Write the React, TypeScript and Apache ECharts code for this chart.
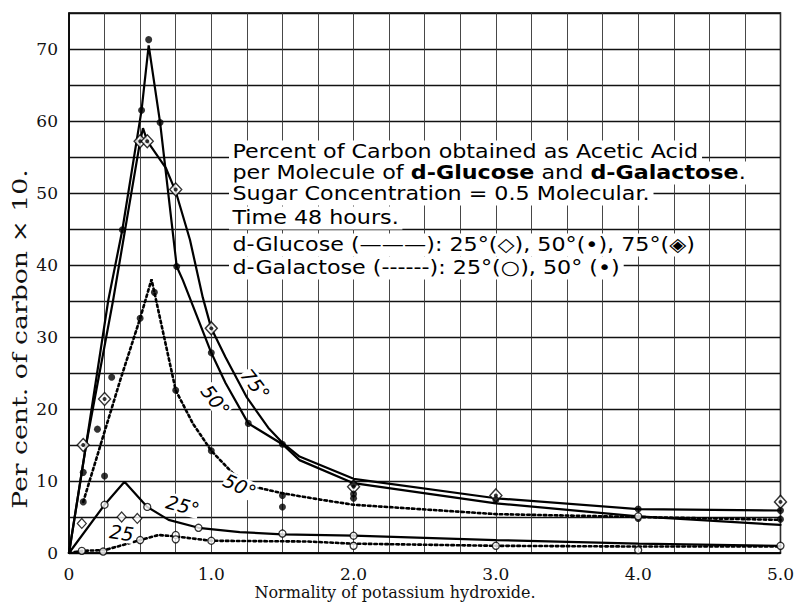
import React, { useEffect, useRef } from "react";
import * as echarts from "echarts";

// Axis ranges and tick labels
const X_MIN = 0;
const X_MAX = 5;
const Y_MIN = 0;
const Y_MAX = 75;
const xTickLabels: Record<string, string> = { "0": "0", "1": "1.0", "2": "2.0", "3": "3.0", "4": "4.0", "5": "5.0" };
const yTickLabels = [0, 10, 20, 30, 40, 50, 60, 70];

// Drawn curves
const glucose75Curve = [
  [0, 0], [0.12, 15], [0.31, 35.1], [0.5, 57.2], [0.52, 59], [0.55, 57.2], [0.68, 53.5], [0.75, 50.2],
  [0.85, 43.5], [0.94, 35.5], [1.0, 31.2], [1.1, 27.2], [1.25, 21.6], [1.4, 17.4], [1.5, 15.3], [1.62, 13.4],
  [2.0, 10.3], [3.0, 7.6], [4.0, 6.1], [5.0, 5.9],
];
const glucose50Curve = [
  [0, 0], [0.12, 15], [0.276, 35.1], [0.375, 44.9], [0.51, 61.5], [0.56, 70.5], [0.64, 59.8], [0.757, 39.8],
  [0.8, 37.9], [1.0, 27.8], [1.1, 23.6], [1.26, 18.0], [1.5, 15.1], [1.62, 12.9], [2.0, 9.7], [3.0, 6.9],
  [4.0, 5.1], [5.0, 3.9],
];
const glucose25Curve = [
  [0, 0], [0.25, 6.7], [0.39, 9.9], [0.55, 6.4], [0.7, 4.6], [0.91, 3.5], [1.2, 2.9], [1.5, 2.6], [2.0, 2.4],
  [3.0, 1.8], [4.0, 1.3], [5.0, 1.0],
];
const galactose50Curve = [
  [0.1, 7.1], [0.36, 24], [0.5, 32.6], [0.58, 38.0], [0.6, 36.2], [0.75, 22.6], [0.87, 18], [1.0, 14.2],
  [1.15, 11.1], [1.3, 9.2], [1.5, 8.3], [1.77, 7.4], [2.0, 6.7], [3.0, 5.4], [4.0, 5.0], [5.0, 4.6],
];
const galactose25Curve = [
  [0, 0], [0.09, 0.3], [0.25, 0.4], [0.5, 1.8], [0.63, 2.5], [0.75, 2.3], [1.0, 1.7], [1.67, 1.6], [2.0, 1.3],
  [3.0, 1.0], [4.0, 0.9], [5.0, 0.9],
];

// Observed points
const glucose75Points = [
  [0.1, 15.0], [0.25, 21.4], [0.5, 57.2], [0.55, 57.2], [0.75, 50.5], [1.0, 31.2], [2.0, 9.2], [3.0, 8.0], [5.0, 7.1],
];
const glucose50Points = [
  [0.1, 11.2], [0.2, 17.2], [0.375, 44.9], [0.51, 61.5], [0.56, 71.3], [0.64, 59.8], [0.757, 39.8], [1.0, 27.8],
  [1.26, 18.0], [1.5, 15.1], [2.0, 9.6], [2.0, 8.2], [3.0, 7.4], [4.0, 6.1], [5.0, 5.9],
];
const galactose50Points = [
  [0.1, 7.1], [0.25, 10.7], [0.3, 24.4], [0.5, 32.6], [0.6, 36.2], [0.75, 22.6], [1.0, 14.2], [1.5, 8.0],
  [1.5, 6.4], [2.0, 7.6], [4.0, 4.8], [5.0, 4.7],
];
const glucose25Points = [[0.09, 4.1], [0.37, 5.0], [0.48, 4.8]];
const openCirclePoints = [
  [0.25, 6.7], [0.55, 6.4], [0.91, 3.5], [1.5, 2.7], [2.0, 2.4], [0.09, 0.3], [0.24, 0.2], [0.5, 1.8],
  [0.75, 2.5], [0.75, 1.9], [1.0, 1.7], [2.0, 1.0], [3.0, 1.0], [4.0, 5.1], [4.0, 0.4], [5.0, 1.0],
];

// Curve labels: text, data position, rotation (deg)
const curveLabelText = ["75°", "50°", "50°", "25°", "25"];
const curveLabelPos = [[1.31, 23.4], [1.03, 21.2], [1.2, 9.3], [0.8, 6.6], [0.37, 2.8]];
const curveLabelRot = [-52, -52, -25, -15, -8];

// Legend box text
const legendLines = [
  "Percent of Carbon obtained as Acetic Acid",
  "per Molecule of {b|d-Glucose} and {b|d-Galactose}.",
  "Sugar Concentration = 0.5 Molecular.",
  "Time 48 hours.",
  "d-Glucose (———): 25°(◇), 50°(•), 75°(◈)",
  "d-Galactose (------): 25°(○), 50° (•)",
];
const legendLineY = [152, 173, 194, 218, 245, 268];

const SANS = "'DejaVu Sans', sans-serif";
const SERIF = "'DejaVu Serif', serif";

export default function App() {
  const ref = useRef<HTMLDivElement>(null);
  useEffect(() => {
    if (!ref.current) return;
    const chart = echarts.init(ref.current, null, { renderer: "svg" });
    const lineSeries = (data: number[][], dotted: boolean, width: number) => ({
      type: "line",
      data,
      showSymbol: false,
      symbol: "none",
      z: 3,
      lineStyle: { color: "#000", width, type: dotted ? [2.5, 3] : "solid", cap: "round" },
    });
    const option: any = {
      animation: false,
      backgroundColor: "#fff",
      grid: { left: 69, right: 16, top: 13, bottom: 58, show: true, borderColor: "#000", borderWidth: 1.5, backgroundColor: "transparent" },
      xAxis: {
        type: "value",
        min: X_MIN,
        max: X_MAX,
        interval: 0.25,
        axisLine: { show: true, onZero: false, lineStyle: { color: "#000", width: 1.5 } },
        axisTick: { show: false },
        splitLine: { show: true, lineStyle: { color: "#333", width: 0.9 } },
        axisLabel: {
          fontFamily: SERIF,
          fontSize: 17,
          color: "#111",
          margin: 12,
          formatter: (v: number) => (Math.abs(v - Math.round(v)) < 1e-6 ? xTickLabels[String(Math.round(v))] || "" : ""),
        },
      },
      yAxis: {
        type: "value",
        min: Y_MIN,
        max: Y_MAX,
        interval: 5,
        axisLine: { show: true, onZero: false, lineStyle: { color: "#000", width: 1.5 } },
        axisTick: { show: false },
        splitLine: { show: true, lineStyle: { color: "#111", width: 1.3 } },
        axisLabel: {
          fontFamily: SERIF,
          fontSize: 17,
          color: "#111",
          margin: 11,
          formatter: (v: number) => (yTickLabels.indexOf(v) >= 0 ? String(v) : ""),
        },
      },
      series: [
        lineSeries(glucose75Curve, false, 2.2),
        lineSeries(glucose50Curve, false, 2.2),
        lineSeries(glucose25Curve, false, 2.2),
        lineSeries(galactose50Curve, true, 2.6),
        lineSeries(galactose25Curve, true, 2.6),
        {
          type: "scatter",
          data: glucose75Points,
          symbol: "diamond",
          symbolSize: [12, 13],
          z: 5,
          itemStyle: { color: "#fff", borderColor: "#000", borderWidth: 1.4 },
        },
        {
          type: "scatter",
          data: glucose75Points,
          symbol: "circle",
          symbolSize: 4,
          z: 6,
          itemStyle: { color: "#000" },
        },
        {
          type: "scatter",
          data: glucose25Points,
          symbol: "diamond",
          symbolSize: [9, 10],
          z: 5,
          itemStyle: { color: "#fff", borderColor: "#000", borderWidth: 1.2 },
        },
        {
          type: "scatter",
          data: glucose50Points,
          symbol: "circle",
          symbolSize: 7,
          z: 5,
          itemStyle: { color: "#000" },
        },
        {
          type: "scatter",
          data: galactose50Points,
          symbol: "circle",
          symbolSize: 7,
          z: 5,
          itemStyle: { color: "#000" },
        },
        {
          type: "scatter",
          data: openCirclePoints,
          symbol: "circle",
          symbolSize: 7,
          z: 5,
          itemStyle: { color: "#fff", borderColor: "#000", borderWidth: 1.3 },
        },
      ],
    };
    chart.setOption(option);

    const legendGfx = legendLines.map((t, i) => ({
      type: "text",
      x: 229,
      y: legendLineY[i],
      scaleX: 1.17,
      z: 100,
      style: {
        text: t,
        fontFamily: SANS,
        fontSize: 19,
        fill: "#000",
        verticalAlign: "middle",
        align: "left",
        backgroundColor: "#fff",
        padding: [2, 3, 2, 3],
        rich: { b: { fontFamily: SANS, fontSize: 19, fontWeight: "bold", fill: "#000" } },
      },
    }));
    const labelGfx = curveLabelText.map((t, i) => {
      const p = chart.convertToPixel({ gridIndex: 0 }, curveLabelPos[i]) as number[];
      return {
        type: "text",
        x: p[0],
        y: p[1],
        rotation: (curveLabelRot[i] * Math.PI) / 180,
        z: 100,
        style: {
          text: t,
          fontFamily: SANS,
          fontStyle: "oblique",
          fontSize: 19,
          fill: "#000",
          align: "center",
          verticalAlign: "middle",
          backgroundColor: "#fff",
        },
      };
    });
    const axisNames = [
      {
        type: "text",
        x: 395,
        y: 592,
        z: 100,
        style: { text: "Normality of potassium hydroxide.", fontFamily: SERIF, fontSize: 16, fill: "#111", align: "center", verticalAlign: "middle" },
      },
      {
        type: "text",
        x: 20,
        y: 339,
        rotation: Math.PI / 2,
        scaleX: 1.27,
        z: 100,
        style: { text: "Per cent. of carbon × 10.", fontFamily: SERIF, fontSize: 21, fill: "#111", align: "center", verticalAlign: "middle" },
      },
    ];
    chart.setOption({ graphic: [...legendGfx, ...labelGfx, ...axisNames] });
    return () => chart.dispose();
  }, []);
  return <div ref={ref} style={{ position: "fixed", left: 0, top: 0, width: 797, height: 611, background: "#fff" }} />;
}
